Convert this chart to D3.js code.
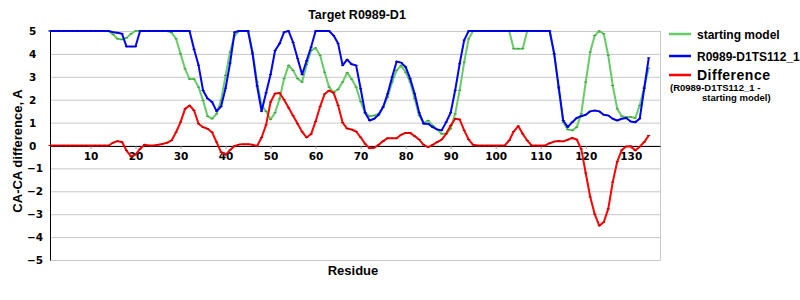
<!DOCTYPE html>
<html><head><meta charset="utf-8">
<script src="https://cdn.jsdelivr.net/npm/d3@7"></script>
<style>body{margin:0;background:#fff}svg{display:block}</style>
</head><body><svg id="c" width="800" height="300"></svg>
<script>
const title = "Target R0989-D1";
const xTicks = [10,20,30,40,50,60,70,80,90,100,110,120,130];
const yTicks = [-5,-4,-3,-2,-1,0,1,2,3,4,5];
const seriesNames = ["starting model","R0989-D1TS112_1","Difference"];
// residue 1..134
const startingModel = [5,5,5,5,5,5,5,5,5,5,5,5,5,5,
 4.85,4.66,4.63,4.7,4.88,5,5,5,5,5,5,5,5,4.93,4.66,4.0,
 3.35,2.9,2.9,2.55,1.97,1.28,1.17,1.38,1.97,3.06,
 4.08,4.8,5,5,5,4.08,2.77,1.75,1.49,1.14,
 1.43,2.04,2.92,3.5,3.28,2.92,2.77,3.53,4.15,4.26,
 3.94,3.2,2.55,2.33,2.45,2.77,3.18,2.9,2.55,1.92,
 1.43,1.28,1.31,1.38,1.68,2.11,2.77,3.28,3.5,3.2,
 2.77,2.04,1.31,0.99,1.09,0.87,0.7,0.51,0.51,0.73,
 1.38,2.41,3.64,4.66,5,5,5,5,5,5,
 5,5,5,4.23,4.23,4.23,5,5,5,5,
 5,5,4.0,2.48,1.02,0.7,0.66,0.8,1.38,2.77,
 4.08,4.8,5,4.88,3.94,2.62,1.6,1.28,1.24,1.24,
 1.2,1.75,2.55,3.38];
const modelTS112 = [5,5,5,5,5,5,5,5,5,5,5,5,5,5,
 4.95,4.92,4.88,4.32,4.32,4.32,5,5,5,5,5,5,5,5,5,5,
 5,5,4.2,3.5,2.4,2.05,1.9,1.5,1.7,2.5,
 3.6,4.95,5,5,5,4.0,2.6,1.5,2.3,3.1,
 4.15,4.45,4.95,5,4.5,3.8,3.1,3.7,4.3,5,
 5,5,5,4.8,4.45,3.5,3.75,3.55,3.5,2.48,
 1.43,1.09,1.17,1.34,1.68,2.26,2.99,3.67,3.62,3.43,
 2.92,2.26,1.43,0.95,0.95,0.8,0.7,0.66,1.02,1.43,
 2.41,3.57,4.6,5,5,5,5,5,5,5,
 5,5,5,5,5,5,5,5,5,5,
 5,5,4.0,2.55,1.09,0.8,1.02,1.2,1.28,1.34,
 1.49,1.53,1.49,1.34,1.31,1.17,1.09,1.17,1.2,1.05,
 1.02,1.17,2.5,3.83];
const difference = [0,0,0,0,0,0,0,0,0,0,0,0,0,0,
 0.12,0.19,0.15,-0.22,-0.48,-0.4,-0.15,0.03,0,0,0.03,0.07,0.12,0.22,0.58,1.02,
 1.6,1.75,1.53,0.95,0.8,0.73,0.58,0.15,-0.29,-0.4,
 -0.2,-0.02,0.04,0.06,0.06,0.03,-0.02,0.35,0.9,1.9,
 2.27,2.29,2.0,1.65,1.3,0.95,0.6,0.35,0.5,1.05,
 1.7,2.25,2.4,2.3,1.75,1.0,0.74,0.7,0.61,0.36,
 0.07,-0.12,-0.1,0.03,0.19,0.32,0.32,0.32,0.47,0.55,
 0.55,0.41,0.26,0.03,-0.07,0.03,0.15,0.26,0.51,0.87,
 1.17,1.14,0.66,0.26,0.03,0,0,0,0,0,
 0,0,0.22,0.61,0.85,0.51,0.22,0,0,0,
 0,0.1,0.17,0.2,0.18,0.25,0.33,0.26,-0.15,-1.2,
 -2.25,-3.0,-3.5,-3.35,-2.77,-1.6,-0.7,-0.2,-0.04,-0.03,
 -0.22,-0.05,0.15,0.44];

const colors = ["#66CC66","#0000FF","#FF0000"];
const svg = d3.select("#c");
const L=50,R=660,T=31,B=260;
const x = d3.scaleLinear().domain([1,136.5]).range([L,R]);
const y = d3.scaleLinear().domain([-5,5]).range([B,T]);

// gridlines
svg.append("g").selectAll("line").data(yTicks).join("line")
 .attr("x1",L).attr("x2",R).attr("y1",d=>y(d)+0.5).attr("y2",d=>y(d)+0.5)
 .attr("stroke","#C8C8C8").attr("stroke-width",1);
svg.append("line").attr("x1",R+0.5).attr("x2",R+0.5).attr("y1",T).attr("y2",B+0.5).attr("stroke","#C8C8C8");

// y axis
svg.append("line").attr("x1",L+0.5).attr("x2",L+0.5).attr("y1",T).attr("y2",B+0.5).attr("stroke","#000");
svg.append("g").selectAll("text").data(yTicks).join("text")
 .attr("x",d=>d<0?27:29).attr("y",d=>y(d)+4)
 .attr("font-family","DejaVu Sans").attr("font-weight","bold").attr("font-size","10.5px")
 .text(d=>d<0?"\u2212"+Math.abs(d):d);

// x axis at 0
const xAxis = d3.axisBottom(x).tickValues(xTicks).tickSize(3).tickSizeOuter(0);
const gx = svg.append("g").attr("transform",`translate(0,${y(0)+0.5})`).call(xAxis);
gx.select(".domain").attr("stroke","#000");
gx.selectAll(".tick line").attr("stroke","#999");
gx.selectAll(".tick text").attr("font-family","DejaVu Sans").attr("font-weight","bold")
 .attr("font-size","10.5px").attr("fill","#000").attr("dy","0.85em").attr("y",5);

// lines
const series=[startingModel,modelTS112,difference];
const line = d3.line().x((d,i)=>x(i+1)).y(d=>y(d));
series.forEach((s,k)=>{
 svg.append("path").datum(s).attr("d",line).attr("fill","none")
  .attr("stroke",colors[k]).attr("stroke-width",2).attr("stroke-linejoin","round");
 svg.append("g").selectAll("rect").data(s).join("rect")
  .attr("x",(d,i)=>x(i+1)-1.5).attr("y",d=>y(d)-0.5).attr("width",3).attr("height",1)
  .attr("fill",k===0?"#3a9a3a":(k===1?"#0000AA":"#B00000"));
});

// title and axis titles
svg.append("text").attr("x",357).attr("y",19).attr("text-anchor","middle")
 .attr("font-family","Liberation Sans, Arial").attr("font-weight","bold").attr("font-size","12.5px").text(title);
svg.append("text").attr("transform","translate(22,151) rotate(-90)").attr("text-anchor","middle")
 .attr("font-family","Liberation Sans, Arial").attr("font-weight","bold").attr("font-size","13px").text("CA-CA difference, A");
svg.append("text").attr("x",353).attr("y",275).attr("text-anchor","middle")
 .attr("font-family","Liberation Sans, Arial").attr("font-weight","bold").attr("font-size","13px").text("Residue");

// legend
const ly=[34,56,75];
ly.forEach((yy,k)=>{
 svg.append("line").attr("x1",669).attr("x2",691).attr("y1",yy).attr("y2",yy).attr("stroke",colors[k]).attr("stroke-width",2.5);
});
const lf="Liberation Sans, Arial";
svg.append("text").attr("x",697).attr("y",38.5).attr("font-family",lf).attr("font-weight","bold").attr("font-size","12px").text(seriesNames[0]);
svg.append("text").attr("x",697).attr("y",60.5).attr("font-family",lf).attr("font-weight","bold").attr("font-size","12px").text(seriesNames[1]);
svg.append("text").attr("x",697).attr("y",80).attr("font-family",lf).attr("font-weight","bold").attr("font-size","14px").attr("letter-spacing","0.5px").text(seriesNames[2]);
svg.append("text").attr("x",670).attr("y",91).attr("font-family",lf).attr("font-weight","bold").attr("font-size","9.5px").text("(R0989-D1TS112_1 -");
svg.append("text").attr("x",702).attr("y",101).attr("font-family",lf).attr("font-weight","bold").attr("font-size","9.5px").text("starting model)");
</script></body></html>
